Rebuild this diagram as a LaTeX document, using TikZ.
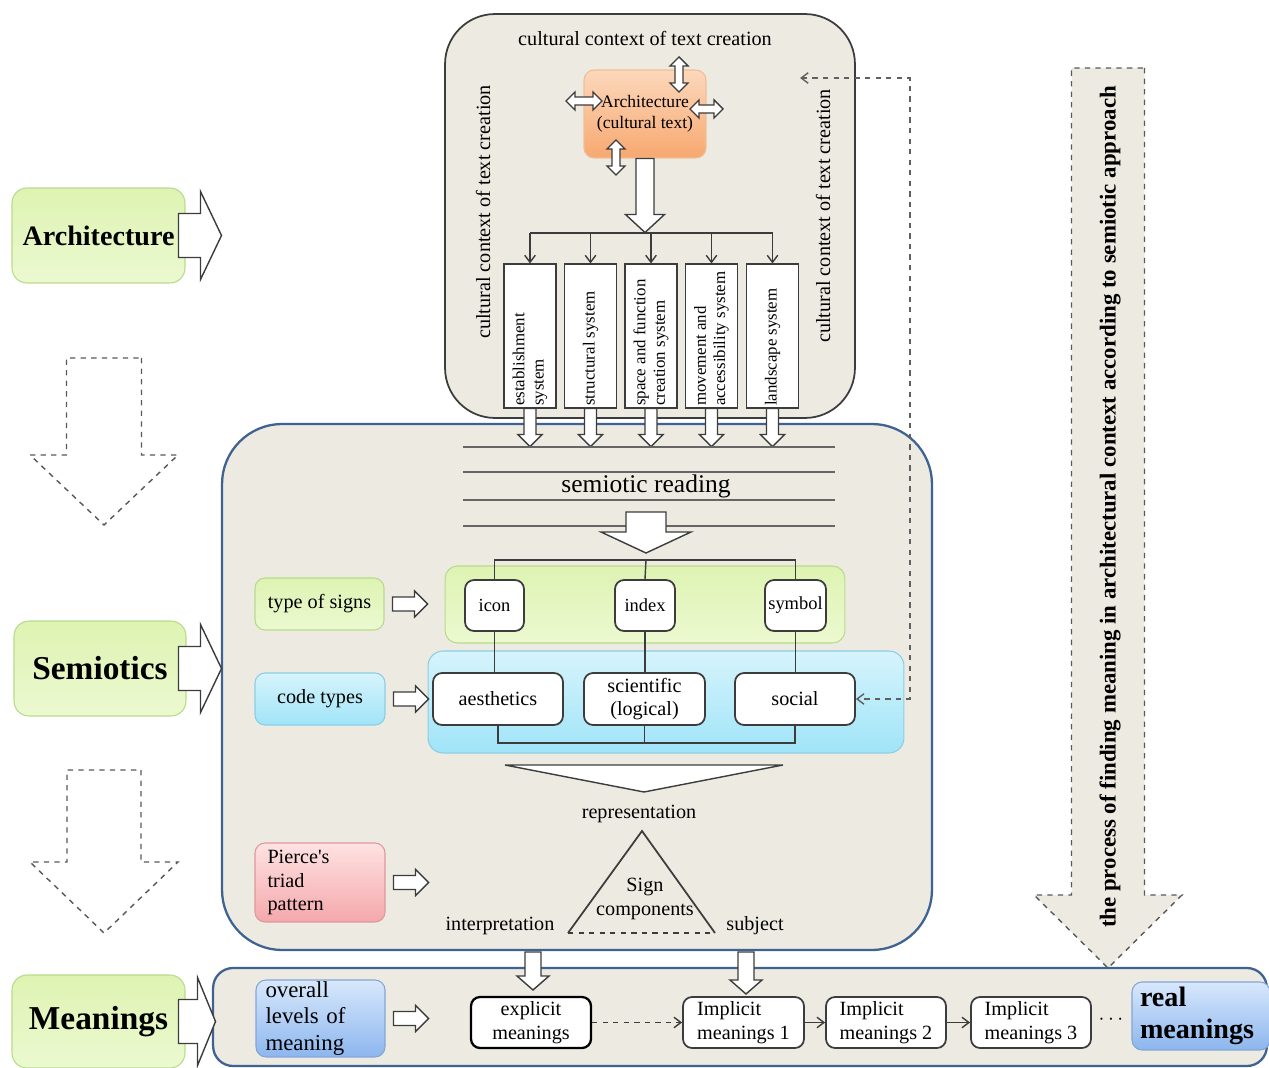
\documentclass[tikz,border=0pt]{standalone}
\usepackage{fontspec}
\setmainfont{Liberation Serif}
\usetikzlibrary{arrows.meta,positioning}

\definecolor{ctxbg}{RGB}{237,235,225}
\definecolor{boxgray}{RGB}{60,60,60}
\definecolor{semblue}{RGB}{62,98,145}
\definecolor{orgtop}{RGB}{252,216,188}
\definecolor{orgbot}{RGB}{247,168,112}
\definecolor{orgline}{RGB}{240,190,150}
\definecolor{grntop}{RGB}{222,243,178}
\definecolor{grnbot}{RGB}{236,249,208}
\definecolor{grnline}{RGB}{184,218,140}
\definecolor{cyantop}{RGB}{214,244,252}
\definecolor{cyanbot}{RGB}{160,228,248}
\definecolor{cyanline}{RGB}{140,205,228}
\definecolor{redtop}{RGB}{255,226,226}
\definecolor{redbot}{RGB}{244,168,172}
\definecolor{redline}{RGB}{225,150,155}
\definecolor{bluetop}{RGB}{216,232,252}
\definecolor{bluebot}{RGB}{140,182,238}
\definecolor{blueline}{RGB}{130,165,215}

% hollow block arrow: [style]{start}{direction}{length}{shaft half}{head half}{head length}
\newcommand{\blk}[7][blkarrow]{%
  \filldraw[#1,shift={#2},rotate=#3] (0,-#5) -- (#4-#7,-#5) -- (#4-#7,-#6) -- (#4,0)
    -- (#4-#7,#6) -- (#4-#7,#5) -- (0,#5) -- cycle;}
% same, head at both ends
\newcommand{\dblk}[7][blkarrow]{%
  \filldraw[#1,shift={#2},rotate=#3] (0,0) -- (#7,-#6) -- (#7,-#5) -- (#4-#7,-#5)
    -- (#4-#7,-#6) -- (#4,0) -- (#4-#7,#6) -- (#4-#7,#5) -- (#7,#5) -- (#7,#6) -- cycle;}

\begin{document}
\begin{tikzpicture}[x=0.02cm,y=-0.02cm,font=\fontsize{11.5}{13.5}\selectfont,
  >={Straight Barb[length=4pt,width=6pt]}]
\tikzset{blkarrow/.style={draw=boxgray,fill=white,line width=0.8pt},
  dashblk/.style={draw=gray!70!black,fill=white,dashed,line width=0.8pt},
  ctxbox/.style={draw=boxgray,fill=ctxbg,line width=1pt,rounded corners=1cm},
  semrnd/.style={draw=semblue,fill=ctxbg,line width=1.3pt},
  sysbox/.style={draw=boxgray,fill=white,line width=0.9pt,rotate=90,
    minimum width=2.84cm,minimum height=1.04cm,text width=2.8cm,align=flush left,
    inner sep=1pt,font=\fontsize{9.6}{11}\selectfont},
  signbox/.style={draw=boxgray,fill=white,line width=1pt,rounded corners=0.18cm,inner sep=1pt},
  colbox/.style={rounded corners=0.2cm,line width=0.6pt,inner sep=1pt},
  greenbox/.style={colbox,draw=grnline,top color=grntop,bottom color=grnbot},
  cyanbox/.style={colbox,draw=cyanline,top color=cyantop,bottom color=cyanbot},
  redbox/.style={colbox,draw=redline,top color=redtop,bottom color=redbot},
  bluebox/.style={colbox,draw=blueline,top color=bluetop,bottom color=bluebot},
  orgbox/.style={colbox,draw=orgline,top color=orgtop,bottom color=orgbot},
  readline/.style={draw=gray!80!black,line width=0.9pt},
  conn/.style={draw=boxgray,line width=0.8pt},
  bigword/.style={font=\fontsize{19}{22}\selectfont\bfseries}}
\useasboundingbox (0,0) rectangle (1269,1068);

%process arrow on the right
\blk[dashblk,fill=ctxbg]{(1108,68)}{-90}{900}{36.5}{74}{73}
\node[rotate=90,font=\fontsize{13}{15}\selectfont\bfseries] (process) at (1110,507)
  {the process of finding meaning in architectural context according to semiotic approach};

%cultural context
\node[ctxbox,minimum width=8.2cm,minimum height=8.08cm] (ctx) at (650,216) {};
\node (ctxtop) at (645,38) {cultural context of text creation};
\node[rotate=90] (ctxleft) at (483,212) {cultural context of text creation};
\node[rotate=90] (ctxright) at (823,216) {cultural context of text creation};
\node[orgbox,minimum width=2.44cm,minimum height=1.76cm,align=center,
  font=\fontsize{10}{12}\selectfont] (arch) at (645,114) {Architecture\\(cultural text)};
\dblk{(679,57)}{-90}{35}{4}{9}{9}
\dblk{(566,101)}{0}{36}{4}{9}{9}
\dblk{(690,109)}{0}{33}{4}{9}{9}
\dblk{(616,140)}{-90}{35}{4}{9}{9}
\blk{(arch.south)}{-90}{74}{9}{19.5}{18}

%systems
\node[sysbox] (est) at (530,336) {establishment\\system};
\node[sysbox] (struc) at (590.5,336) {structural system};
\node[sysbox] (space) at (651,336) {space and function\\creation system};
\node[sysbox] (move) at (711.5,336) {movement and\\accessibility system};
\node[sysbox] (land) at (772.5,336) {landscape system};
\coordinate (fork) at (645,233);
\draw[conn] (est.east |- fork) -- (land.east |- fork);
\foreach \s in {est,struc,space,move,land}
  \draw[conn,->] (\s.east |- fork) -- (\s.east);

%semiotic box
\node[semrnd,rounded corners=1.2cm,minimum width=14.2cm,minimum height=10.52cm] (sem) at (577,687) {};
\foreach \s in {est,struc,space,move,land}{
  \blk{(\s.west)}{-90}{38}{6}{12}{12}}
\foreach \yy in {447,472,500,526}
  \draw[readline] (463,\yy) -- (835,\yy);
\node[font=\fontsize{14.5}{16}\selectfont] (read) at (646,486) {semiotic reading};
\blk{(646,512)}{-90}{41}{20}{45}{21}

%signs and codes
\node[greenbox,rounded corners=0.25cm,minimum width=8cm,minimum height=1.54cm] (signband) at (645,604.5) {};
\node[cyanbox,rounded corners=0.3cm,minimum width=9.52cm,minimum height=2.04cm] (codeband) at (666,702) {};
\node[signbox,minimum width=1.18cm,minimum height=1.02cm,font=\fontsize{10.5}{12}\selectfont] (icon) at (494.5,605.5) {icon};
\node[signbox,minimum width=1.2cm,minimum height=1.02cm,font=\fontsize{10.5}{12}\selectfont] (index) at (645,605.5) {index};
\node[signbox,minimum width=1.22cm,minimum height=1.02cm,font=\fontsize{10.5}{12}\selectfont] (symbol) at (795.5,605.5) {symbol};
\coordinate (brk) at (646,560);
\draw[conn] (icon.north) |- (brk) -| (symbol.north);
\draw[conn] (brk) -- (index.north);
\node[signbox,minimum width=2.6cm,minimum height=1.04cm] (aest) at (498,699) {aesthetics};
\node[signbox,minimum width=2.42cm,minimum height=1.04cm,align=center] (sci) at (644.5,699) {scientific\\(logical)};
\node[signbox,minimum width=2.4cm,minimum height=1.04cm] (social) at (795,699) {social};
\draw[conn] (icon.south) -- (icon.south |- aest.north);
\draw[conn] (index.south) -- (index.south |- sci.north);
\draw[conn] (symbol.south) -- (symbol.south |- social.north);
\coordinate (brk2) at (643,743);
\draw[conn] (aest.south) |- (brk2) -| (social.south);
\draw[conn] (sci.south) -- (sci.south |- brk2);

%representation and triad
\filldraw[blkarrow] (505,765) -- (783,765) -- (644,792) -- cycle;
\node (repr) at (639,814) {representation};
\coordinate (apex) at (642,831);
\coordinate (tl) at (568,933);
\coordinate (tr) at (715,933);
\draw[conn,line width=1pt] (tl) -- (apex) -- (tr);
\draw[conn,line width=1pt,dashed] (tl) -- (tr);
\node[align=center] (signc) at (645,899) {Sign\\components};
\node (interp) at (500,926) {interpretation};
\node (subj) at (755,926) {subject};

%labels on the left of the semiotic box
\node[greenbox,minimum width=2.58cm,minimum height=1.04cm] (typesigns) at (319.5,604) {type of signs};
\node[cyanbox,minimum width=2.6cm,minimum height=1.04cm] (codetypes) at (320,699) {code types};
\node[redbox,minimum width=2.6cm,minimum height=1.58cm,text width=2.1cm,align=left] (pierce) at (320,882.5) {Pierce\textquotesingle s\\triad\\pattern};
\foreach \lbl in {typesigns,codetypes,pierce}{
  \blk{([xshift=0.16cm]\lbl.east)}{0}{35}{7}{13}{13}}

%meanings
\node[semrnd,rounded corners=0.4cm,minimum width=21.08cm,minimum height=1.96cm] (mean) at (740,1017) {};
\blk{(533,952)}{-90}{38}{8}{16}{14}
\blk{(746,952)}{-90}{42}{8}{16}{14}
\node[bluebox,minimum width=2.58cm,minimum height=1.54cm,inner sep=0pt,text width=2.2cm,align=left,
  font=\fontsize{13}{15}\selectfont] (overall) at (320.5,1018.5) {overall\\levels of\\meaning};
\blk{([xshift=0.16cm]overall.east)}{0}{35}{7}{13}{13}
\node[signbox,draw=black,line width=1.3pt,minimum width=2.4cm,minimum height=1.02cm,align=center] (expl) at (531,1022.5) {explicit\\meanings};
\node[signbox,minimum width=2.42cm,minimum height=1.02cm,align=left] (imp1) at (743.5,1022.5) {Implicit\\meanings 1};
\node[signbox,minimum width=2.4cm,minimum height=1.02cm,align=left] (imp2) at (886,1022.5) {Implicit\\meanings 2};
\node[signbox,minimum width=2.4cm,minimum height=1.02cm,align=left] (imp3) at (1031,1022.5) {Implicit\\meanings 3};
\draw[conn,dashed,->] (expl) -- (imp1);
\draw[conn,->] (imp1) -- (imp2);
\draw[conn,->] (imp2) -- (imp3);
\node (dots) at (1111,1020) {$\cdots$};
\node[bluebox,minimum width=2.76cm,minimum height=1.36cm,text width=2.44cm,align=left,
  font=\fontsize{16}{18}\selectfont\bfseries] (real) at (1201,1016) {real\\meanings};

%left column
\node[greenbox,rounded corners=0.3cm,minimum width=3.46cm,minimum height=1.9cm,
  font=\fontsize{16}{18}\selectfont\bfseries] (archL) at (98.5,235.5) {Architecture};
\blk{([xshift=-0.14cm]archL.east)}{0}{43}{22}{44}{21}
\blk[dashblk]{(104,358)}{-90}{167}{37.5}{74}{70}
\node[greenbox,rounded corners=0.3cm,minimum width=3.44cm,minimum height=1.9cm,bigword] (semL) at (100,668.5) {Semiotics};
\blk{([xshift=-0.16cm]semL.east)}{0}{43}{22}{44}{21}
\blk[dashblk]{(104,770)}{-90}{163}{37}{74}{71}
\node[greenbox,rounded corners=0.3cm,minimum width=3.46cm,minimum height=1.86cm,bigword] (meanL) at (98.5,1021.5) {Meanings};
\blk{([xshift=-0.14cm]meanL.east)}{0}{37}{22}{44}{18}

%feedback from social back to the context
\coordinate (ctxin) at (800,78);
\coordinate (loop) at (910,78);
\draw[conn,draw=gray!75!black,dashed,<->] (ctxin) -- (loop) |- (social.east);
\end{tikzpicture}
\end{document}
